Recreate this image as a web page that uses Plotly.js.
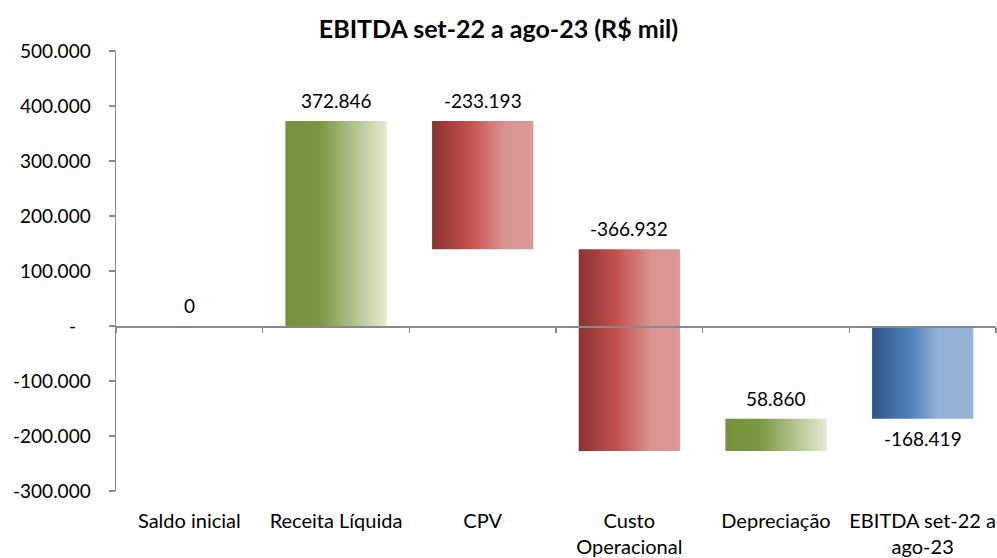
<!DOCTYPE html>
<html>
<head>
<meta charset="utf-8">
<script src="https://cdn.plot.ly/plotly-3.0.1.min.js"></script>
<style>html,body{margin:0;padding:0;background:#fff;}#chart{width:997px;height:558px;}</style>
</head>
<body>
<div id="chart"></div>
<script>
// ---- data ----
const categories = ['Saldo inicial', 'Receita Líquida', 'CPV', 'Custo<br>Operacional', 'Depreciação', 'EBITDA set-22 a<br>ago-23'];
const changes = [0, 372846, -233193, -366932, 58860, -168419];
const isTotal = [true, false, false, false, false, true];
const fillKind = ['green', 'green', 'red', 'red', 'green', 'blue'];
const yTickVals = [-300000, -200000, -100000, 0, 100000, 200000, 300000, 400000, 500000];
const yTickText = ['-300.000', '-200.000', '-100.000', '-\u00a0\u00a0\u00a0', '100.000', '200.000', '300.000', '400.000', '500.000'];

function fmt(v) {
  const s = Math.abs(v).toString().replace(/\B(?=(\d{3})+(?!\d))/g, '.');
  return (v < 0 ? '-' : '') + s;
}

// compute bases/heights through running total
const bases = [], heights = [], labels = [];
let run = 0;
changes.forEach((c, i) => {
  if (isTotal[i]) {
    bases.push(0); heights.push(c); run = c;
  } else {
    const next = run + c;
    bases.push(Math.min(run, next)); heights.push(Math.abs(c)); run = next;
  }
  labels.push(fmt(c));
});

const FONT = 'Lato, "Open Sans", sans-serif';

const bar = {
  type: 'bar',
  x: categories,
  y: heights,
  base: bases,
  marker: {color: '#76923C', line: {width: 0}},
  hoverinfo: 'none'
};
const dummy = {type: 'scatter', x: categories, y: categories.map(() => null), xaxis: 'x2', yaxis: 'y', showlegend: false, hoverinfo: 'none'};

// data labels: above the bar top, except a negative total which is labelled below
const annotations = categories.map((c, i) => {
  const below = isTotal[i] && heights[i] < 0;
  const top = Math.max(bases[i], bases[i] + heights[i]);
  const bottom = Math.min(bases[i], bases[i] + heights[i]);
  return {
    x: c, y: below ? bottom : top, xref: 'x', yref: 'y', text: labels[i], showarrow: false,
    yanchor: below ? 'top' : 'bottom', yshift: below ? -6 : 7,
    font: {family: FONT, size: 19, color: '#000'}
  };
});

const layout = {
  width: 997, height: 558,
  margin: {l: 116, r: 1, t: 51, b: 67},
  paper_bgcolor: '#fff', plot_bgcolor: '#fff',
  showlegend: false,
  bargap: 0.31,
  font: {family: FONT, size: 19, color: '#000'},
  annotations: annotations,
  title: {text: '<b>EBITDA set-22 a ago-23 (R$ mil)</b>', x: 0.5, xref: 'container', xanchor: 'center', y: 0.947, yref: 'container', yanchor: 'middle', font: {family: FONT, size: 25, color: '#000'}},
  xaxis: {
    type: 'category', range: [-0.5, 5.5], showline: false, ticks: '', showgrid: false, zeroline: false,
    tickfont: {family: FONT, size: 20, color: '#000'}, automargin: false, ticklabelstandoff: 16
  },
  xaxis2: {
    type: 'category', overlaying: 'x', anchor: 'free', position: 0.375, side: 'bottom',
    range: [-0.5, 5.5], categoryarray: categories, showline: true, linecolor: '#898989', linewidth: 1.5,
    ticks: 'outside', tickson: 'boundaries', ticklen: 5, tickcolor: '#898989', tickwidth: 1.5,
    showticklabels: false, showgrid: false, zeroline: false
  },
  yaxis: {
    range: [-300000, 500000], tickvals: yTickVals, ticktext: yTickText,
    showline: true, linecolor: '#898989', linewidth: 1.5, ticks: 'outside', ticklen: 6, tickcolor: '#898989', tickwidth: 1.5,
    showgrid: false, zeroline: false, ticklabelstandoff: 14,
    tickfont: {family: FONT, size: 19, color: '#000'}, automargin: false
  }
};

Plotly.newPlot('chart', [bar, dummy], layout, {displayModeBar: false, staticPlot: true}).then(gd => {
  const svg = gd.querySelector('svg.main-svg');
  const NS = 'http://www.w3.org/2000/svg';
  let defs = svg.querySelector('defs');
  if (!defs) { defs = document.createElementNS(NS, 'defs'); svg.insertBefore(defs, svg.firstChild); }
  const grads = {
    green: [[0, '#76923C'], [0.33, '#7A9640'], [1, '#E3ECD2']],
    red: [[0, '#8A3131'], [0.38, '#C4524F'], [0.72, '#D99492'], [1, '#DA9796']],
    blue: [[0, '#2E5686'], [0.38, '#5080BC'], [0.65, '#93B1D6'], [1, '#96B3D7']]
  };
  Object.keys(grads).forEach(k => {
    const lg = document.createElementNS(NS, 'linearGradient');
    lg.setAttribute('id', 'grad-' + k);
    lg.setAttribute('x1', '0'); lg.setAttribute('x2', '1'); lg.setAttribute('y1', '0'); lg.setAttribute('y2', '0');
    grads[k].forEach(([o, c]) => {
      const st = document.createElementNS(NS, 'stop');
      st.setAttribute('offset', o); st.setAttribute('stop-color', c);
      lg.appendChild(st);
    });
    defs.appendChild(lg);
  });
  const pts = gd.querySelectorAll('.barlayer .trace.bars .point path');
  pts.forEach((p, i) => { p.style.fill = 'url(#grad-' + fillKind[i] + ')'; });
});
</script>
</body>
</html>
